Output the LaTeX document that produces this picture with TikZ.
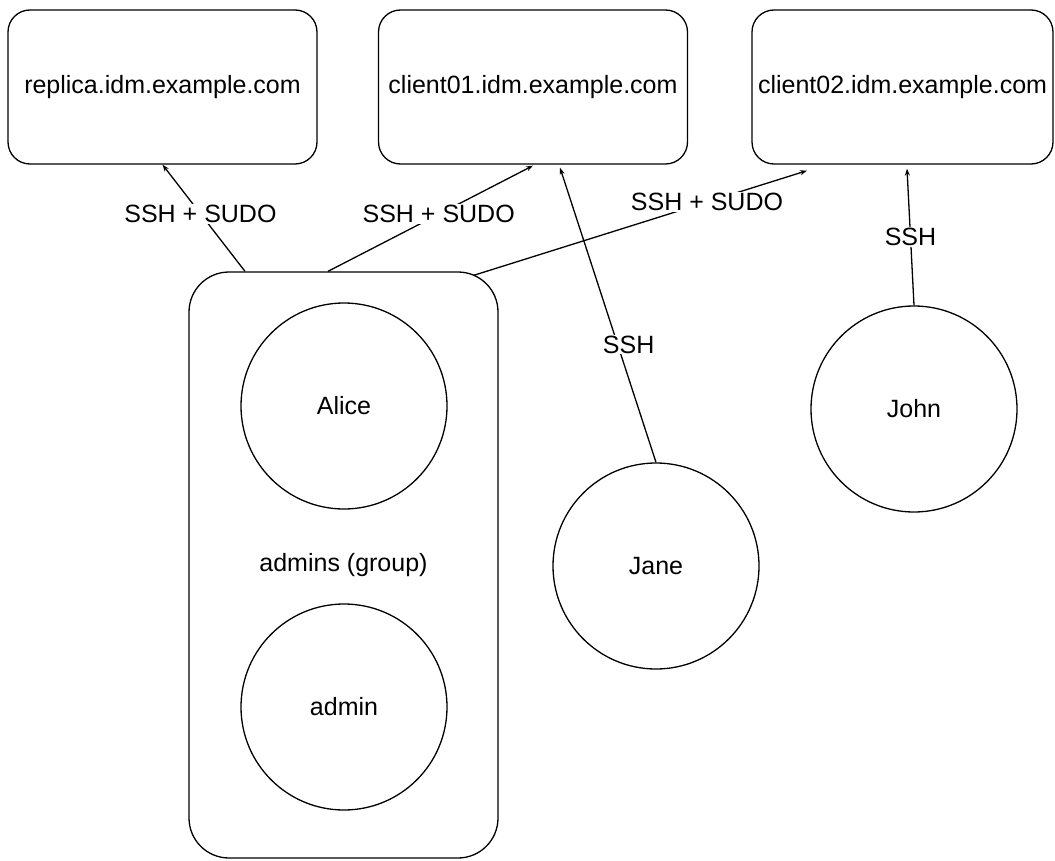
\documentclass[tikz,border=0pt]{standalone}
\usepackage{fontspec}
\setmainfont{Liberation Sans}
\usetikzlibrary{arrows.meta}

\begin{document}
\begin{tikzpicture}[x=1pt,y=-1pt,line width=1.3pt,
      every node/.style={font=\fontsize{25}{30}\selectfont},
      host/.style={draw,rounded corners=22pt,minimum width=309pt,minimum height=154pt,inner sep=0pt},
      user/.style={circle,draw,minimum size=206pt,inner sep=0pt},
      grpbox/.style={draw,rounded corners=40pt,minimum width=309pt,minimum height=586pt,inner sep=0pt},
      access/.style={-{Stealth[length=7pt,width=5pt]}},
      lbl/.style={fill=white,inner sep=1pt}]
    \useasboundingbox (0,0) rectangle (1055,861);

    \node[host] (replica) at (162.5,87) {replica.idm.example.com};
    \node[host] (client01) at (533,87) {client01.idm.example.com};
    \node[host,minimum width=301pt] (client02) at (902.5,87) {client02.idm.example.com};

    \node[grpbox] (admins) at (343.5,565) {admins (group)};
    \node[user] (alice) at (344,406) {Alice};
    \node[user] (admin) at (344,707) {admin};
    \node[user] (jane) at (656,566) {Jane};
    \node[user] (john) at (914,409) {John};

    \draw[access] ([xshift=-98.5pt]admins.north) -- (replica.south)
        node[lbl,pos=0.54] {SSH + SUDO};
    \draw[access] ([xshift=-15.5pt]admins.north) -- ([yshift=-1pt]client01.south)
        node[lbl,pos=0.54] {SSH + SUDO};
    \draw[access] ([xshift=-25pt,yshift=-4pt]admins.north east) -- ([xshift=-95.5pt,yshift=-6pt]client02.south)
        node[lbl,pos=0.7] {SSH + SUDO};
    \draw[access] (jane.north) -- ([xshift=27pt,yshift=-3pt]client01.south)
        node[lbl,pos=0.4,xshift=11pt] {SSH};
    \draw[access] (john.north) -- ([xshift=4.5pt,yshift=-4pt]client02.south)
        node[lbl,pos=0.5] {SSH};
  \end{tikzpicture}
\end{document}
